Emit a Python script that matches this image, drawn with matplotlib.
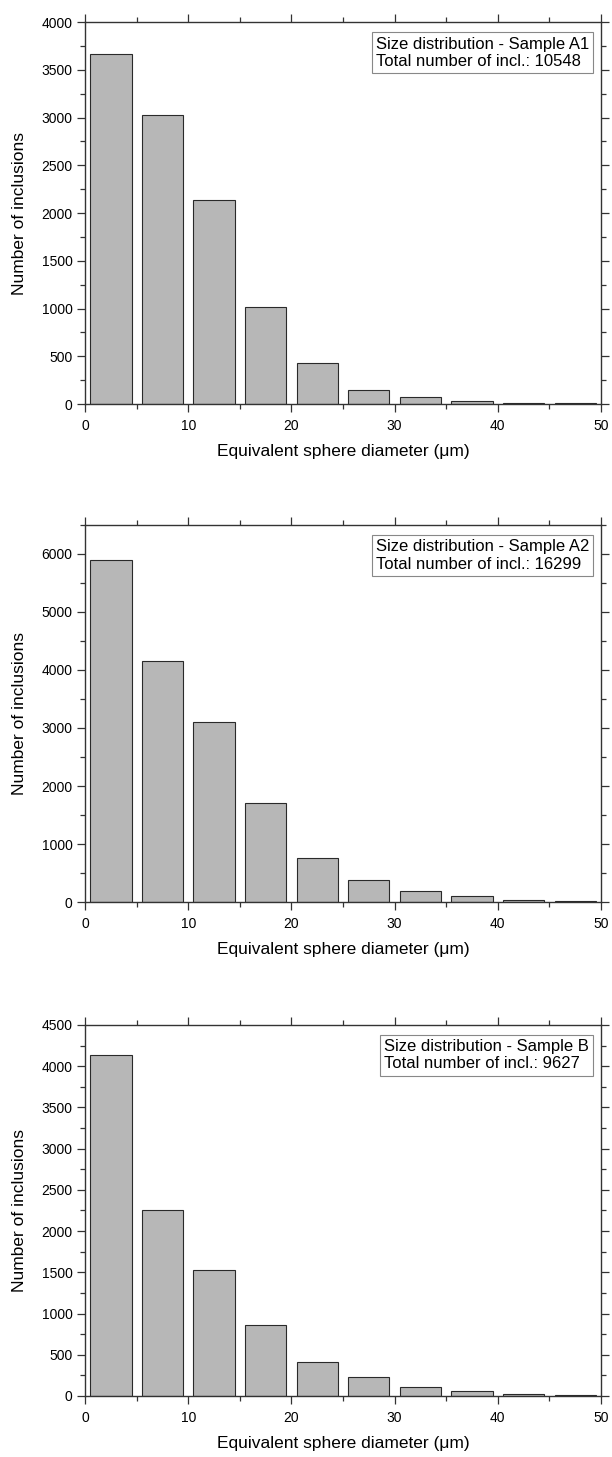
#inclusion size distributions for three samples, stacked histograms
import numpy as np
import matplotlib
matplotlib.use("Agg")
import matplotlib.pyplot as plt
from matplotlib.ticker import MultipleLocator

plt.rcParams['font.family'] = ['Liberation Sans', 'DejaVu Sans']

# bin centres of the 5 um classes
bin_centres = [2.5, 7.5, 12.5, 17.5, 22.5, 27.5, 32.5, 37.5, 42.5, 47.5]

counts_a1 = [3660, 3028, 2140, 1021, 430, 147, 77, 28, 10, 7]
counts_a2 = [5890, 4150, 3095, 1703, 754, 377, 183, 97, 40, 11]
counts_b = [4136, 2250, 1530, 863, 408, 227, 114, 59, 27, 16]

samples = ["A1", "A2", "B"]
totals = [10548, 16299, 9627]
y_max = [4000, 6500, 4500]
y_major = [500, 1000, 500]

fig = plt.figure(figsize=(6.12, 14.57), dpi=100)

# axes boxes in figure fractions (left, bottom, width, height)
rects = [
    [0.139, 0.7227, 0.843, 0.2622],
    [0.139, 0.3809, 0.843, 0.2588],
    [0.139, 0.0419, 0.843, 0.2546],
]

for i, counts in enumerate([counts_a1, counts_a2, counts_b]):
    ax = fig.add_axes(rects[i])
    ax.bar(bin_centres, counts, width=4.0, color="#b7b7b7",
           edgecolor="#2a2a2a", linewidth=0.8)

    ax.set_xlim(0, 50)
    ax.set_ylim(0, y_max[i])
    ax.xaxis.set_major_locator(MultipleLocator(10))
    ax.xaxis.set_minor_locator(MultipleLocator(5))
    ax.yaxis.set_major_locator(MultipleLocator(y_major[i]))
    ax.yaxis.set_minor_locator(MultipleLocator(y_major[i] / 2))

    ax.tick_params(which="both", direction="out", top=True, right=True,
                   labeltop=False, labelright=False, width=0.9,
                   color="#333333", labelsize=10)
    ax.tick_params(which="major", length=6)
    ax.tick_params(which="minor", length=3.5)
    ax.tick_params(axis="x", pad=5)
    ax.tick_params(axis="y", pad=3)
    for sp in ax.spines.values():
        sp.set_linewidth(1.0)
        sp.set_color("#333333")

    h_px = rects[i][3] * 1457
    ax.set_xlabel("Equivalent sphere diameter (\u03bcm)", fontsize=12.5)
    ax.xaxis.set_label_coords(0.5, -40.0 / h_px)
    ax.set_ylabel("Number of inclusions", fontsize=12.5)
    ax.yaxis.set_label_coords(-0.112, 0.5)

    ax.text(0.977, 0.962,
            "Size distribution - Sample %s\nTotal number of incl.: %d"
            % (samples[i], totals[i]),
            transform=ax.transAxes, ha="right", va="top", fontsize=12,
            multialignment="left", linespacing=1.2,
            bbox=dict(boxstyle="square,pad=0.25", facecolor="white",
                      edgecolor="#888888", linewidth=0.8))

fig.savefig("out.png", dpi=100)
